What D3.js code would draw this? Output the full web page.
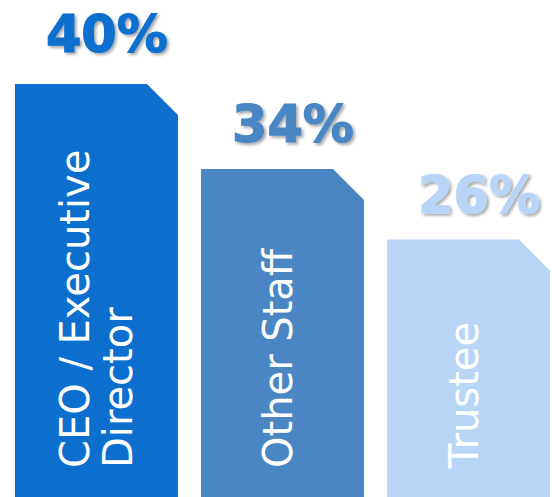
<!DOCTYPE html>
<html>
<head>
<meta charset="utf-8">
<script src="https://cdn.jsdelivr.net/npm/d3@7"></script>
<style>
  html, body { margin: 0; padding: 0; background: #ffffff; }
  svg { display: block; }
</style>
</head>
<body>
<div id="chart"></div>
<script>
// chart data
var categories = ["CEO / Executive Director", "Other Staff", "Trustee"];
var labelLines = [["CEO / Executive", "Director"], ["Other Staff"], ["Trustee"]];
var values     = [40, 34, 26];
var colors     = ["#0c6fce", "#4a86c4", "#b8d5f7"];

var width  = 552,
    height = 497,
    cut    = 31;      // size of the clipped top-right corner

var svg = d3.select("#chart").append("svg")
    .attr("width", width)
    .attr("height", height);

// drop shadow for the percentage labels
var filter = svg.append("defs").append("filter")
    .attr("id", "shadow")
    .attr("x", "-10%").attr("y", "-10%")
    .attr("width", "130%").attr("height", "140%");
filter.append("feDropShadow")
    .attr("dx", 2).attr("dy", 2)
    .attr("stdDeviation", 1.5)
    .attr("flood-color", "#000")
    .attr("flood-opacity", 0.35);

// scales (infographic heights are not proportional, so a power scale fits them)
var x = d3.scaleBand()
    .domain(categories)
    .range([15, 550])
    .paddingInner(0.124)
    .paddingOuter(0);

var y = d3.scalePow()
    .exponent(3.3)
    .domain([0, 40])
    .range([289, 84]);

var bw = x.bandwidth();

// bars with a cut corner
var bars = svg.selectAll("g.bar")
    .data(categories)
    .enter()
    .append("g")
    .attr("class", "bar");

bars.append("path")
    .attr("d", function(d, i) {
        var x0 = x(d), x1 = x(d) + bw, top = y(values[i]);
        return "M" + x0 + "," + height +
               "L" + x0 + "," + top +
               "L" + (x1 - cut) + "," + top +
               "L" + x1 + "," + (top + cut) +
               "L" + x1 + "," + height + "Z";
    })
    .attr("fill", function(d, i) { return colors[i]; });

// percentage labels above the bars
bars.append("text")
    .attr("x", function(d) { return x(d) + bw - 10; })
    .attr("y", function(d, i) { return y(values[i]) - (i === 0 ? 32 : 27); })
    .attr("text-anchor", "end")
    .attr("font-family", "'DejaVu Sans', sans-serif")
    .attr("font-weight", "bold")
    .attr("font-size", 51)
    .attr("fill", function(d, i) { return colors[i]; })
    .attr("stroke", function(d, i) { return colors[i]; })
    .attr("stroke-width", 1.2)
    .attr("filter", "url(#shadow)")
    .text(function(d, i) { return values[i] + "%"; });

// rotated category names inside the bars
var lineGap = 43;
bars.each(function(d, i) {
    var lines = labelLines[i],
        cx    = x(d) + bw / 2,
        first = lines.length > 1 ? cx - 7 : cx + 9;
    var t = d3.select(this).append("text")
        .attr("transform", "translate(" + first + ",468) rotate(-90)")
        .attr("font-family", "'DejaVu Sans', sans-serif")
        .attr("font-size", 40)
        .attr("fill", "#ffffff");
    t.selectAll("tspan")
        .data(lines)
        .enter()
        .append("tspan")
        .attr("x", 0)
        .attr("y", function(l, j) { return j * lineGap; })
        .text(function(l) { return l; });
});
</script>
</body>
</html>
